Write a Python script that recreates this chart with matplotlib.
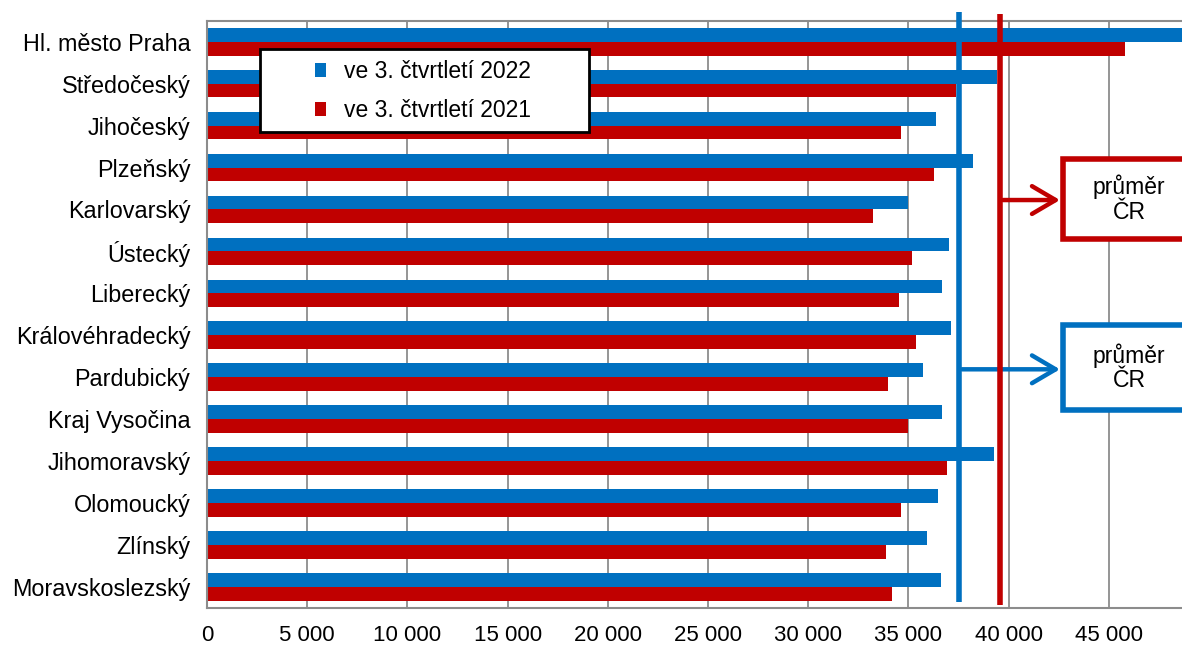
import matplotlib.pyplot as plt
import numpy as np
from matplotlib.patches import Rectangle
from matplotlib.ticker import FuncFormatter

plt.rcParams['font.family'] = ['Liberation Sans', 'DejaVu Sans']

regions = ["Hl. město Praha", "Středočeský", "Jihočeský", "Plzeňský", "Karlovarský",
           "Ústecký", "Liberecký", "Královéhradecký", "Pardubický", "Kraj Vysočina",
           "Jihomoravský", "Olomoucký", "Zlínský", "Moravskoslezský"]
q3_2022 = [50200, 39430, 36370, 38210, 34990, 37020, 36690,
           37120, 35710, 36690, 39280, 36480, 35950, 36600]
q3_2021 = [45820, 37360, 34650, 36280, 33230, 35170, 34540,
           35390, 33980, 34990, 36930, 34650, 33870, 34190]
labels = ["ve 3. čtvrtletí 2022", "ve 3. čtvrtletí 2021"]
mean_blue = 37530
mean_red = 39580
box_text = "průměr\nČR"
xticks = list(range(0, 45001, 5000))

BLUE = '#0070C0'
RED = '#C00000'
GRID = '#8c8c8c'
FS = 16

fig = plt.figure(figsize=(11.82, 6.46), dpi=100)
ax = fig.add_axes([207 / 1182, 38 / 646, 975 / 1182, 587.3 / 646])

y = np.arange(len(regions))
h = 0.33
b1 = ax.barh(y - h / 2, q3_2022, height=h, color=BLUE, zorder=2)
b2 = ax.barh(y + h / 2, q3_2021, height=h, color=RED, zorder=2)

ax.set_xlim(0, 48650)
ax.set_ylim(len(regions) - 0.5, -0.5)
ax.set_yticks(y)
ax.set_yticklabels(regions, fontsize=16.8)
ax.set_xticks(xticks)
ax.xaxis.set_major_formatter(FuncFormatter(lambda v, p: f"{int(v):,}".replace(",", " ")))
ax.tick_params(axis='x', labelsize=FS, length=0, pad=12)
ax.tick_params(axis='y', length=0, pad=12)
ax.grid(axis='x', color=GRID, lw=1.3, zorder=0)
ax.set_axisbelow(True)
for s in ['left', 'bottom', 'top']:
    ax.spines[s].set_color(GRID)
    ax.spines[s].set_linewidth(1.5)
ax.spines['right'].set_visible(False)

# lines of the national averages
ax.plot([mean_blue, mean_blue], [-0.71, 13.35], color=BLUE, lw=4, clip_on=False, zorder=4,
        solid_capstyle='butt')
ax.plot([mean_red, mean_red], [-0.67, 13.43], color=RED, lw=4, clip_on=False, zorder=5,
        solid_capstyle='butt')

# arrows and boxes
arrow = '->,head_length=1.7,head_width=1.0'
ax.annotate('', xy=(42700, 3.775), xytext=(mean_red, 3.775),
            arrowprops=dict(arrowstyle=arrow, color=RED, lw=3.2),
            zorder=5, annotation_clip=False)
ax.annotate('', xy=(42700, 7.81), xytext=(mean_blue, 7.81),
            arrowprops=dict(arrowstyle=arrow, color=BLUE, lw=3.2),
            zorder=4, annotation_clip=False)
ax.add_patch(Rectangle((42710, 2.80), 10000, 1.905, facecolor='white', edgecolor=RED,
                       lw=4, clip_on=False, zorder=6))
ax.add_patch(Rectangle((42710, 6.76), 10000, 2.02, facecolor='white', edgecolor=BLUE,
                       lw=4, clip_on=False, zorder=6))
ax.text(46010, 3.75, box_text, ha='center', va='center', fontsize=16.5, linespacing=1.1,
        zorder=7, clip_on=False)
ax.text(46010, 7.77, box_text, ha='center', va='center', fontsize=16.5, linespacing=1.1,
        zorder=7, clip_on=False)

# legend with its own frame
ax.add_patch(Rectangle((259.5 / 1182, 1 - 131.7 / 646), 329 / 1182, 82.4 / 646,
                       transform=fig.transFigure, facecolor='white', edgecolor='black',
                       lw=2.0, zorder=8, clip_on=False))
leg = ax.legend([b1, b2], labels, frameon=False, loc='center left',
                bbox_to_anchor=(314.6 / 1182, 1 - 90.85 / 646),
                bbox_transform=fig.transFigure, fontsize=16.5, handlelength=0.5,
                handleheight=0.55, handletextpad=0.8, labelspacing=0.7,
                borderpad=0, borderaxespad=0)
leg.set_zorder(9)

fig.savefig('out.png', dpi=100)
